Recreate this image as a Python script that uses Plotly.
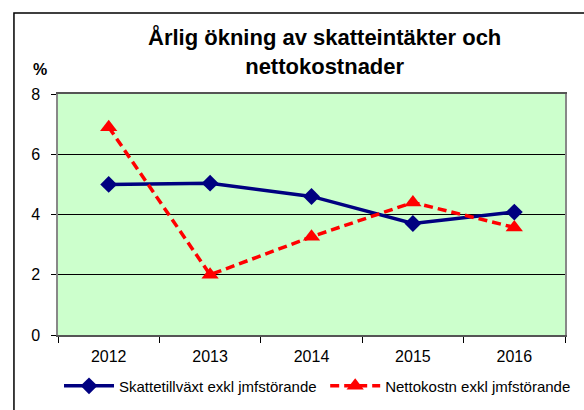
import plotly.graph_objects as go

years = ['2012', '2013', '2014', '2015', '2016']
skatt = [5.0, 5.04, 4.6, 3.7, 4.08]
netto = [6.9, 2.0, 3.26, 4.4, 3.57]

fig = go.Figure()

fig.add_trace(go.Scatter(
    x=years, y=skatt,
    name='Skattetillväxt exkl jmfstörande',
    mode='lines+markers',
    line=dict(color='#000080', width=3.5),
    marker=dict(symbol='diamond', size=13, color='#000080'),
    legend='legend'
))

fig.add_trace(go.Scatter(
    x=years, y=netto,
    name='Nettokostn exkl jmfstörande',
    mode='lines+markers',
    line=dict(color='#FF0000', width=3.5, dash='9px,5px'),
    marker=dict(symbol='triangle-up', size=15, color='#FF0000'),
    legend='legend2'
))

legend_style = dict(orientation='h', y=-0.212, xanchor='left', yanchor='middle',
                    font=dict(size=15), itemwidth=50,
                    bgcolor='rgba(0,0,0,0)')

fig.update_layout(
    width=584, height=410,
    paper_bgcolor='white',
    plot_bgcolor='#CCFFCC',
    font=dict(family='Liberation Sans, Arial', size=13, color='black'),
    margin=dict(l=58, r=8, t=94, b=75),
    showlegend=True,
    legend=dict(x=0.002, **legend_style),
    legend2=dict(x=0.527, **legend_style),
    xaxis=dict(
        type='category',
        range=[-0.5, 4.5],
        showgrid=False,
        ticks='outside', tickson='boundaries', ticklen=6,
        tickcolor='black',
        showline=True, linecolor='#555555', linewidth=1.5,
        mirror=True, automargin=False,
        ticklabelstandoff=6,
        tickfont=dict(size=16)
    ),
    yaxis=dict(
        range=[0, 8],
        tickvals=[0, 2, 4, 6, 8],
        ticks='outside', ticklen=5, tickcolor='black',
        showgrid=True, gridcolor='black', gridwidth=1,
        showline=True, linecolor='#888888', linewidth=1.5,
        mirror=True, automargin=False,
        zeroline=False,
        ticklabelstandoff=8,
        tickfont=dict(size=16)
    ),
    annotations=[
        dict(text='<b>Årlig ökning av skatteintäkter och<br>nettokostnader</b>',
             xref='paper', yref='paper', x=(330 - 58) / 518, y=(335 - 22) / 241,
             xanchor='center', yanchor='top', showarrow=False,
             font=dict(size=22, family='Liberation Sans, Arial'), align='center'),
        dict(text='<b>%</b>', xref='paper', yref='paper',
             x=(40 - 58) / 518, y=(335 - 70) / 241,
             xanchor='center', yanchor='middle', showarrow=False,
             font=dict(size=16))
    ],
    shapes=[
        dict(type='rect', xref='paper', yref='paper',
             x0=(13 - 58) / 518, x1=1.1, y0=-0.5, y1=(335 - 13) / 241,
             line=dict(color='black', width=1.5), fillcolor='rgba(0,0,0,0)',
             layer='below')
    ]
)

fig.write_html('out.html', config={'displayModeBar': False},
               post_script="document.body.style.margin='0';")
